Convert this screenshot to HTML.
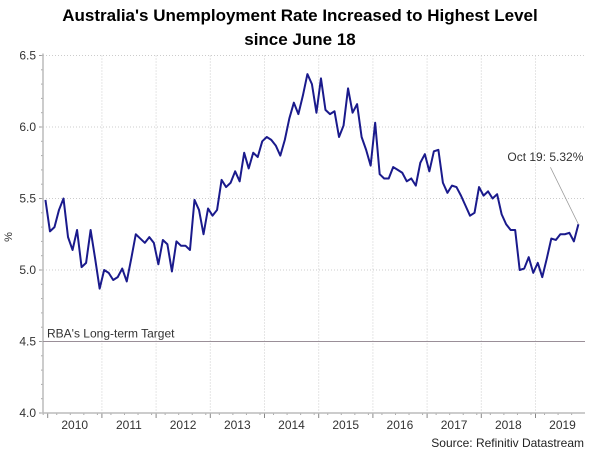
<!DOCTYPE html>
<html><head><meta charset="utf-8">
<style>
html,body{margin:0;padding:0;background:#fff;}
svg{display:block;font-family:"Liberation Sans",Arial,sans-serif;}
</style></head>
<body>
<svg id="chart" width="600" height="455" viewBox="0 0 600 455" xmlns="http://www.w3.org/2000/svg">
<text x="300" y="21" text-anchor="middle" font-size="17" font-weight="bold" fill="#000">Australia's Unemployment Rate Increased to Highest Level</text>
<text x="300" y="45" text-anchor="middle" font-size="17" font-weight="bold" fill="#000">since June 18</text>
<text transform="translate(12,237) rotate(-90)" text-anchor="middle" font-size="11" fill="#333">%</text>
<text x="584" y="447" text-anchor="end" font-size="12" fill="#222">Source: Refinitiv Datastream</text>
<g id="grid"></g><g id="axes"></g><g id="series"></g>
</svg>
<script>
const yTicks = [4.0, 4.5, 5.0, 5.5, 6.0, 6.5];
const years = [2010, 2011, 2012, 2013, 2014, 2015, 2016, 2017, 2018, 2019];
const startMonth = -1; // Dec 2009 relative to Jan 2010
const rates = [5.49,5.27,5.30,5.42,5.50,5.23,5.14,5.28,5.02,5.05,
5.28,5.08,4.87,5.00,4.98,4.93,4.95,5.01,4.92,5.08,
5.25,5.22,5.19,5.23,5.19,5.04,5.21,5.18,4.99,5.20,
5.17,5.17,5.14,5.49,5.42,5.25,5.43,5.38,5.42,5.63,
5.58,5.61,5.69,5.62,5.82,5.71,5.82,5.79,5.90,5.93,
5.91,5.87,5.80,5.91,6.06,6.17,6.09,6.22,6.37,
6.30,6.10,6.34,6.12,6.09,6.11,5.93,6.01,6.27,6.10,
6.16,5.93,5.84,5.73,6.03,5.67,5.64,5.64,5.72,5.70,
5.68,5.62,5.64,5.59,5.75,5.81,5.69,5.83,5.84,5.61,
5.54,5.59,5.58,5.52,5.45,5.38,5.40,5.58,5.52,5.55,
5.50,5.53,5.39,5.32,5.28,5.28,5.00,5.01,5.09,4.98,
5.05,4.95,5.08,5.22,5.21,5.25,5.25,5.26,5.20,5.32];
const target = [4.5];
const lastLabel = ["Oct 19: 5.32%"];

const NS = "http://www.w3.org/2000/svg";
const X0 = 47.7, PXM = 54.2/12, LEFT = 43, RIGHT = 585;
const YTOP = 55.5, YBOT = 413;
const xM = m => X0 + (m + 0.5) * PXM;
const xYear = i => X0 + i * 54.2;
const y = v => YBOT - (v - 4.0) / 2.5 * (YBOT - YTOP);
function mk(tag, attrs, parent) {
  const e = document.createElementNS(NS, tag);
  for (const k in attrs) e.setAttribute(k, attrs[k]);
  parent.appendChild(e); return e;
}
const grid = document.getElementById('grid'), axes = document.getElementById('axes'), series = document.getElementById('series');

yTicks.forEach(v => {
  if (v > 4.0 && v !== 4.5) {
    const g = mk('line', {x1: LEFT, x2: RIGHT, y1: y(v), y2: y(v), stroke: '#ccc', 'stroke-dasharray': '1,2'}, grid);
    
    
  }
  const t = mk('text', {x: 36, y: y(v) + 4, 'text-anchor': 'end', 'font-size': 12, fill: '#333'}, axes);
  t.textContent = v.toFixed(1);
  
  
  mk('line', {x1: LEFT - 4, x2: LEFT, y1: y(v), y2: y(v), stroke: '#999'}, axes);
});
for (let v = 4.0; v <= 6.5001; v += 0.1) mk('line', {x1: LEFT - 2, x2: LEFT, y1: y(v), y2: y(v), stroke: '#aaa'}, axes);

years.forEach((yr, i) => {
  const gx = xYear(i);
  if (i > 0) {
    const g = mk('line', {x1: gx, x2: gx, y1: YTOP, y2: YBOT, stroke: '#ccc', 'stroke-dasharray': '1,2'}, grid);
    
    
  }
  mk('line', {x1: gx, x2: gx, y1: YBOT, y2: YBOT + 5, stroke: '#888'}, axes);
  const t = mk('text', {x: gx + 27, y: 429, 'text-anchor': 'middle', 'font-size': 12, fill: '#333'}, axes);
  t.textContent = yr;
  
  
});
for (let m = -1; m < 120; m += 3) { const mx = X0 + m * PXM; if (mx > LEFT && mx < RIGHT) mk('line', {x1: mx, x2: mx, y1: YBOT, y2: YBOT + 2, stroke: '#aaa'}, axes); }

const la = mk('line', {x1: LEFT, x2: LEFT, y1: YTOP - 2, y2: YBOT, stroke: '#bbb', 'stroke-width': 1.5}, axes);


const lb = mk('line', {x1: LEFT, x2: RIGHT, y1: YBOT, y2: YBOT, stroke: '#bbb', 'stroke-width': 1.5}, axes);



const tl = mk('line', {x1: LEFT, x2: RIGHT, y1: y(target[0]), y2: y(target[0]), stroke: '#9a8f98', 'stroke-width': 1}, series);


const tt = mk('text', {x: 47, y: y(target[0]) - 4, 'font-size': 12, fill: '#333'}, series);
tt.textContent = "RBA's Long-term Target";



const pts = rates.map((v, i) => xM(startMonth + i).toFixed(2) + ',' + y(v).toFixed(2)).join(' ');
const pl = mk('polyline', {points: pts, fill: 'none', stroke: '#1a1a8c', 'stroke-width': 2, 'stroke-linejoin': 'round'}, series);



const li = rates.length - 1, lx = xM(startMonth + li), ly = y(rates[li]);
const al = mk('line', {x1: lx - 28, y1: ly - 57, x2: lx, y2: ly, stroke: '#999', 'stroke-width': 0.8}, series);


const at = mk('text', {x: lx + 5, y: ly - 63, 'text-anchor': 'end', 'font-size': 12, fill: '#333'}, series);
at.textContent = lastLabel[0];


</script>
</body></html>
